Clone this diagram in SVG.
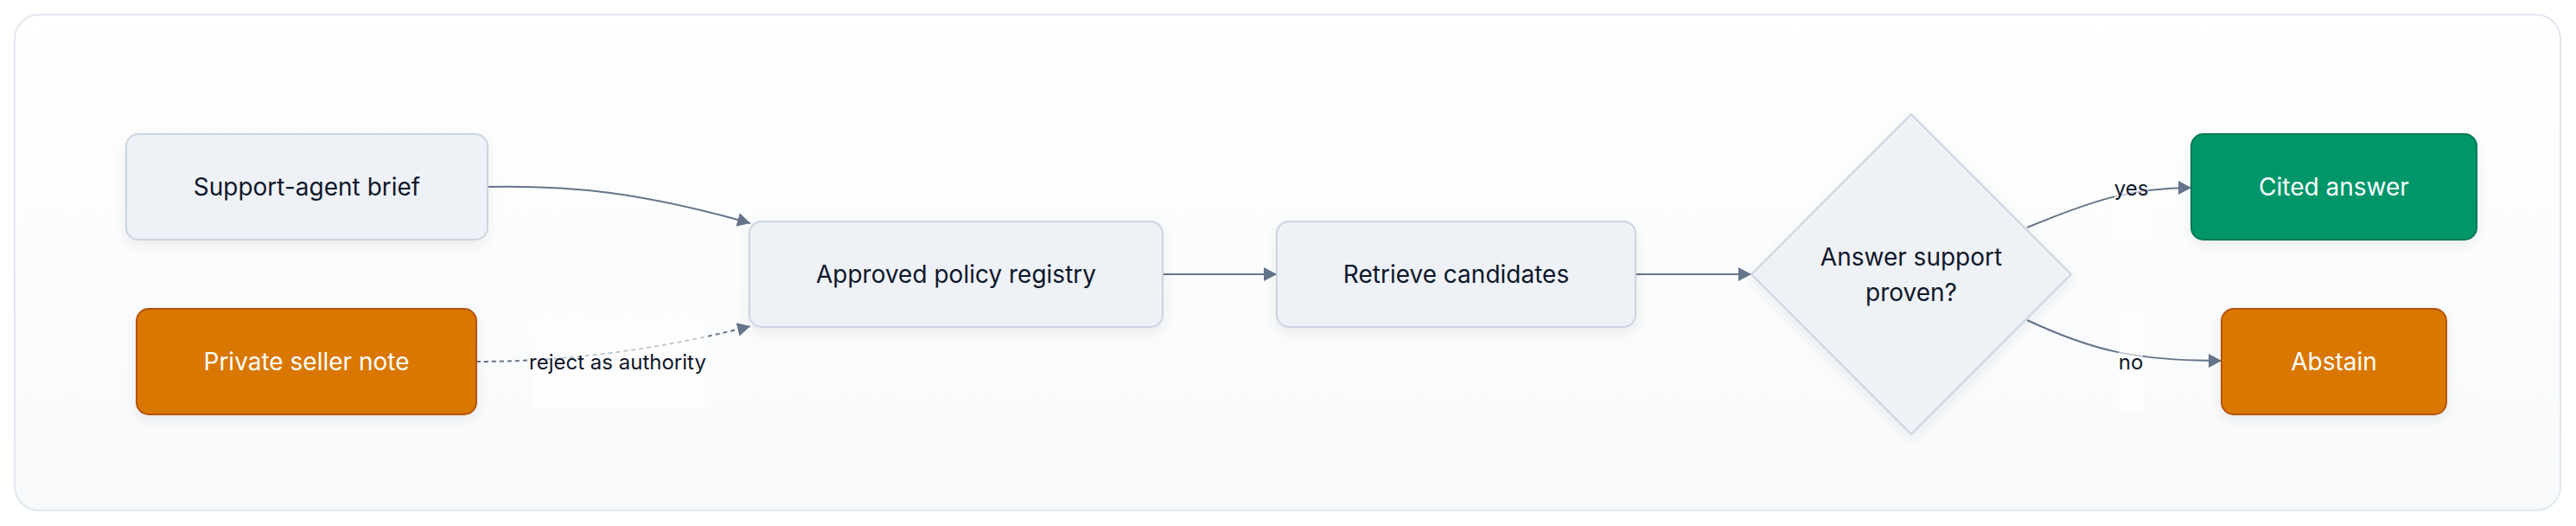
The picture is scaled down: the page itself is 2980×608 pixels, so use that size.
<svg xmlns="http://www.w3.org/2000/svg" width="2980" height="608" viewBox="0 0 2980 608">
  <defs>
    <linearGradient id="bg" x1="0" y1="0" x2="0" y2="1">
      <stop offset="0" stop-color="#ffffff"/>
      <stop offset="1" stop-color="#f7f9fb"/>
    </linearGradient>
    <filter id="shadow" x="-20%" y="-30%" width="140%" height="170%">
      <feDropShadow dx="0" dy="5" stdDeviation="7" flood-color="#0f172a" flood-opacity="0.07"/>
    </filter>
    <marker id="arrow" markerUnits="userSpaceOnUse" markerWidth="16" markerHeight="16" refX="15" refY="8" orient="auto">
      <path d="M0,0 L15,8 L0,16 z" fill="#64748b"/>
    </marker>
    <style>
      .node { fill: #eef1f6; stroke: #cbd5e1; stroke-width: 2; }
      .orange { fill: #d97706; stroke: #b45309; stroke-width: 2; }
      .green { fill: #059669; stroke: #047857; stroke-width: 2; }
      .label { font-family: Inter, "Liberation Sans", sans-serif; font-size: 28px; fill: #0f172a; text-anchor: middle; dominant-baseline: central; }
      .light { fill: #ffffff; }
      .edge { fill: none; stroke: #64748b; stroke-width: 2; }
      .dashed { stroke-dasharray: 5 4; }
      .elabel { font-family: Inter, "Liberation Sans", sans-serif; font-size: 24px; fill: #0f172a; text-anchor: middle; dominant-baseline: central; }
      .lbg { fill: #ffffff; opacity: 0.6; }
    </style>
  </defs>

  <rect x="0" y="0" width="2980" height="608" fill="#ffffff"/>
  <rect x="17" y="17" width="2945" height="573" rx="28" fill="url(#bg)" stroke="#e2e8f0" stroke-width="2"/>

  <g id="connectors">
    <path class="edge" d="M564,216 C660,214 740,222 868,258" marker-end="url(#arrow)"/>
    <path class="edge dashed" d="M551,418 C650,418 760,405 868,377" marker-end="url(#arrow)"/>
    <path class="edge" d="M1345,317 L1477,317" marker-end="url(#arrow)"/>
    <path class="edge" d="M1892,317 L2026,317" marker-end="url(#arrow)"/>
    <path class="edge" d="M2345,263 C2420,232 2465,217 2535,217" marker-end="url(#arrow)"/>
    <path class="edge" d="M2345,370 C2420,405 2470,417 2570,417" marker-end="url(#arrow)"/>
    <g id="edge-labels">
      <rect class="lbg" x="613" y="364" width="203" height="107"/>
      <text class="elabel" x="714.5" y="418">reject as authority</text>
      <rect class="lbg" x="2446" y="161" width="39" height="112"/>
      <text class="elabel" x="2465.5" y="217">yes</text>
      <rect class="lbg" x="2451" y="358" width="28" height="117"/>
      <text class="elabel" x="2465" y="418">no</text>
    </g>
  </g>

  <g id="node-brief">
    <rect class="node" x="146" y="155" width="418" height="122" rx="14" filter="url(#shadow)"/>
    <text class="label" x="355" y="216">Support-agent brief</text>
  </g>
  <g id="node-note">
    <rect class="orange" x="158" y="357" width="393" height="122" rx="14" filter="url(#shadow)"/>
    <text class="label light" x="354.5" y="418">Private seller note</text>
  </g>
  <g id="node-registry">
    <rect class="node" x="867" y="256" width="478" height="122" rx="14" filter="url(#shadow)"/>
    <text class="label" x="1106" y="317">Approved policy registry</text>
  </g>
  <g id="node-retrieve">
    <rect class="node" x="1477" y="256" width="415" height="122" rx="14" filter="url(#shadow)"/>
    <text class="label" x="1684.5" y="317">Retrieve candidates</text>
  </g>
  <g id="node-decision">
    <polygon class="node" points="2211,132 2396,317 2211,502 2026,317" filter="url(#shadow)"/>
    <text class="label" x="2211" y="297">Answer support</text>
    <text class="label" x="2211" y="338">proven?</text>
  </g>
  <g id="node-cited">
    <rect class="green" x="2535" y="155" width="330" height="122" rx="14" filter="url(#shadow)"/>
    <text class="label light" x="2700" y="216">Cited answer</text>
  </g>
  <g id="node-abstain">
    <rect class="orange" x="2570" y="357" width="260" height="122" rx="14" filter="url(#shadow)"/>
    <text class="label light" x="2700" y="418">Abstain</text>
  </g>
</svg>
